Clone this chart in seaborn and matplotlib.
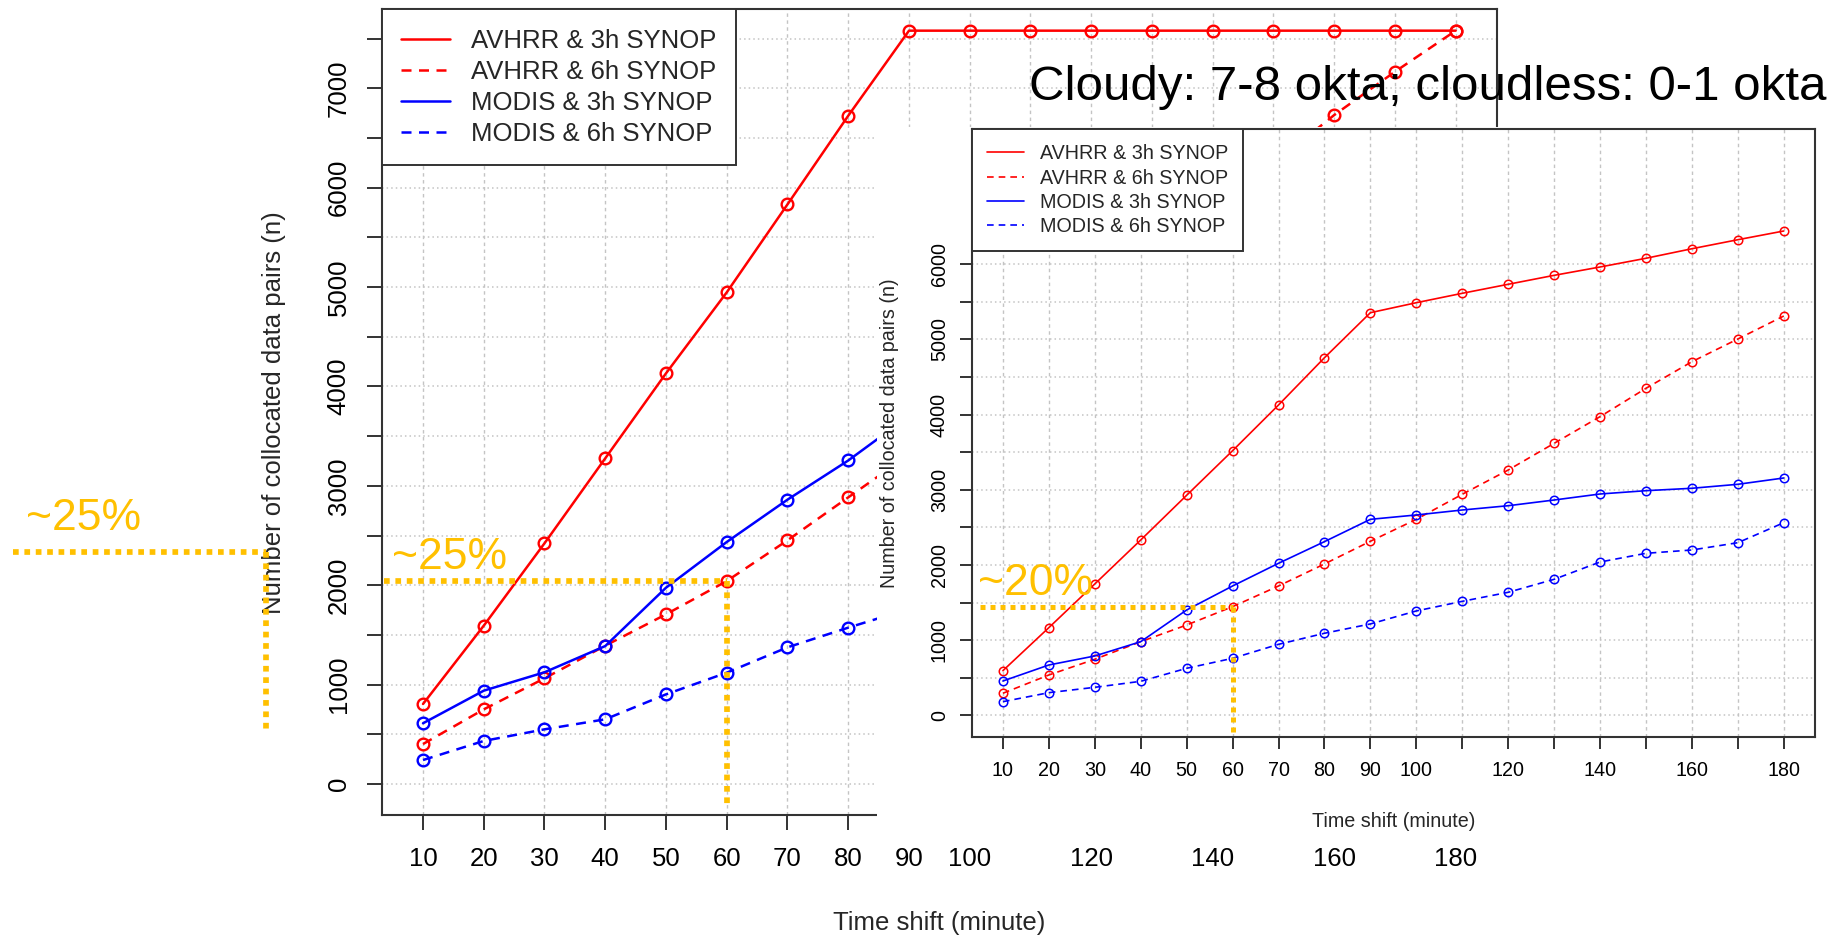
import numpy as np
import pandas as pd
import matplotlib
matplotlib.use("Agg")
import matplotlib.pyplot as plt
from matplotlib.lines import Line2D
from matplotlib.patches import Rectangle
import seaborn as sns

# ---------------------------------------------------------------- data
time_shift = [10, 20, 30, 40, 50, 60, 70, 80, 90, 100,
              110, 120, 130, 140, 150, 160, 170, 180]
x_tick_labels = ["10", "20", "30", "40", "50", "60", "70", "80", "90", "100",
                 "", "120", "", "140", "", "160", "", "180"]

series_names = ["AVHRR & 3h SYNOP", "AVHRR & 6h SYNOP",
                "MODIS & 3h SYNOP", "MODIS & 6h SYNOP"]
series_colors = ["#FF0000", "#FF0000", "#0000FF", "#0000FF"]
series_dashed = [False, True, False, True]

nan = np.nan
# cloudy cases (large panel)
cloudy_avhrr_3h = [805, 1593, 2422, 3277, 4132, 4947, 5832, 6724, 7580, 7580,
                   7580, 7580, 7580, 7580, 7580, 7580, 7580, 7580]
cloudy_avhrr_6h = [402, 751, 1063, 1392, 1707, 2042, 2452, 2884, 3313, nan,
                   nan, nan, nan, nan, 6240, 6731, 7167, 7580]
cloudy_modis_3h = [611, 939, 1124, 1388, 1975, 2435, 2861, 3255, 3703, nan,
                   nan, nan, nan, nan, nan, nan, nan, nan]
cloudy_modis_6h = [241, 433, 550, 651, 902, 1120, 1375, 1573, 1762, nan,
                   nan, nan, nan, nan, nan, nan, nan, nan]

# cloudless cases (inset panel)
clear_avhrr_3h = [594, 1166, 1747, 2332, 2927, 3520, 4128, 4757, 5356, 5489,
                  5614, 5734, 5853, 5964, 6080, 6207, 6327, 6443]
clear_avhrr_6h = [293, 536, 745, 979, 1201, 1445, 1720, 2013, 2315, 2607,
                  2940, 3263, 3618, 3973, 4350, 4704, 5006, 5312]
clear_modis_3h = [456, 669, 789, 979, 1401, 1720, 2022, 2310, 2607, 2665,
                  2731, 2788, 2864, 2944, 2988, 3020, 3073, 3157]
clear_modis_6h = [181, 301, 372, 452, 625, 758, 944, 1091, 1215, 1388,
                  1516, 1636, 1809, 2039, 2155, 2199, 2296, 2562]

title_text = "Cloudy: 7-8 okta; cloudless: 0-1 okta"
x_label = "Time shift (minute)"
y_label = "Number of collocated data pairs (n)"
gold = "#FFC000"

# ---------------------------------------------------------------- style
sns.set_theme(style="white")
plt.rcParams["font.family"] = ["Liberation Sans", "DejaVu Sans"]

fig = plt.figure(figsize=(18.49, 9.39), dpi=100)
W, H = 1849.0, 939.0


def box(left, top, right, bottom):
    return [left / W, 1 - bottom / H, (right - left) / W, (bottom - top) / H]


def draw_series(ax, xs, ys, color, dashed, lw, ms, mew, dash):
    """Draw one series, breaking the line where values are missing."""
    df = pd.DataFrame({"x": xs, "y": ys})
    present = df["y"].notna()
    run = (~present).cumsum()
    for _, part in df[present].groupby(run[present]):
        sns.lineplot(data=part, x="x", y="y", ax=ax, color=color, lw=lw,
                     linestyle=(0, dash) if dashed else "-",
                     marker="o", markersize=ms, markerfacecolor="none",
                     markeredgecolor=color, markeredgewidth=mew,
                     estimator=None, sort=False, legend=False, zorder=3)


def setup_panel(ax, series, ylim, ytick_top, fs_tick, fs_lab, fs_leg,
                lw, ms, mew, dash, tick_len, xpad, ypad, label_pos):
    for ys, c, d in zip(series, series_colors, series_dashed):
        draw_series(ax, time_shift, ys, c, d, lw, ms, mew, dash)

    ax.set_xlim(3.2, 186.8)
    ax.set_ylim(*ylim)
    ax.set_xticks(time_shift)
    ax.set_xticklabels(x_tick_labels)
    yt = np.arange(0, ytick_top + 1, 500)
    ax.set_yticks(yt)
    ax.set_yticklabels([f"{int(v)}" if v % 1000 == 0 else "" for v in yt])
    for t in ax.get_yticklabels():
        t.set_rotation(90)
        t.set_va("center")

    ax.set_axisbelow(True)
    ax.xaxis.grid(True, color="#C4C4C4", lw=1.0, linestyle=(0, (2.5, 2.5)))
    ax.yaxis.grid(True, color="#C4C4C4", lw=1.1, linestyle=(0, (1, 2)))

    ax.tick_params(axis="both", which="major", bottom=True, left=True,
                   direction="out", length=tick_len, width=1.4,
                   color="#333333", labelsize=fs_tick, labelcolor="black")
    ax.tick_params(axis="x", pad=xpad)
    ax.tick_params(axis="y", pad=ypad)
    for sp in ax.spines.values():
        sp.set_visible(True)
        sp.set_color("#333333")
        sp.set_linewidth(1.5)

    ax.set_xlabel(x_label, fontsize=fs_lab, va="center")
    ax.set_ylabel(y_label, fontsize=fs_lab, va="center")
    ax.xaxis.set_label_coords(0.5, label_pos[0])
    ax.yaxis.set_label_coords(label_pos[1], 0.5)

    handles = [Line2D([], [], color=c, lw=lw,
                      linestyle=(0, dash) if d else "-")
               for c, d in zip(series_colors, series_dashed)]
    leg = ax.legend(handles, series_names, loc="upper left", fontsize=fs_leg,
                    borderaxespad=0, frameon=True, fancybox=False,
                    framealpha=1, edgecolor="#333333", borderpad=0.76,
                    labelspacing=0.27, handlelength=1.9, handletextpad=0.8)
    leg.get_frame().set_linewidth(1.4)
    leg.set_zorder(5)


# ---------------------------------------------------------------- cloudy panel
ax_big = fig.add_axes(box(381.7, 9.3, 1497.0, 815.0))
ax_big.set_zorder(0)
setup_panel(ax_big,
            [cloudy_avhrr_3h, cloudy_avhrr_6h, cloudy_modis_3h, cloudy_modis_6h],
            ylim=(-312, 7795), ytick_top=7500, fs_tick=18.5, fs_lab=18.5,
            fs_leg=18.5, lw=1.8, ms=8.4, mew=1.7, dash=(4, 3),
            tick_len=10.8, xpad=12, ypad=11.5, label_pos=(-0.134, -0.0966))

# share of pairs kept at a 60-minute shift
ref_big = cloudy_avhrr_6h[time_shift.index(60)]
gl = dict(color=gold, lw=4.1, linestyle=(0, (1, 1)), clip_on=False, zorder=6)
ax_big.plot([3.5, 60], [ref_big, ref_big], **gl)
ax_big.plot([60, 60], [ref_big, -228], **gl)
ax_big.text(14.4, 2163, "~25%", color=gold, fontsize=32, ha="center",
            va="baseline", zorder=7)
# marker carried to the left margin
ax_big.plot([-57.5, -15.9], [2337, 2337], **gl)
ax_big.plot([-15.9, -15.9], [2337, 513], **gl)
ax_big.text(-45.8, 2556, "~25%", color=gold, fontsize=32, ha="center",
            va="baseline", zorder=7, clip_on=False)

# ---------------------------------------------------------------- cloudless panel
backing = Rectangle((877 / W, 1 - 840 / H), (W - 877) / W, (840 - 127) / H,
                    transform=fig.transFigure, facecolor="white",
                    edgecolor="none", zorder=1)
fig.add_artist(backing)

ax_in = fig.add_axes(box(971.7, 129.3, 1815.0, 737.3))
ax_in.set_zorder(2)
setup_panel(ax_in,
            [clear_avhrr_3h, clear_avhrr_6h, clear_modis_3h, clear_modis_6h],
            ylim=(-293, 7796), ytick_top=6000, fs_tick=14.2, fs_lab=14.2,
            fs_leg=14.2, lw=1.2, ms=6.1, mew=1.1, dash=(4, 3),
            tick_len=8.4, xpad=9, ypad=8, label_pos=(-0.1388, -0.0969))

ref_in = clear_avhrr_6h[time_shift.index(60)]
gl_in = dict(color=gold, lw=3.6, linestyle=(0, (1, 1)), clip_on=False, zorder=6)
ax_in.plot([5.0, 60], [ref_in, ref_in], **gl_in)
ax_in.plot([60, 60], [ref_in, -218], **gl_in)
ax_in.text(17, 1600, "~20%", color=gold, fontsize=32, ha="center",
           va="baseline", zorder=7)

fig.text(1428 / W, 1 - 100 / H, title_text, fontsize=35.5, ha="center",
         va="baseline", color="black", zorder=10)

fig.savefig("out.png", dpi=100, facecolor="white")
